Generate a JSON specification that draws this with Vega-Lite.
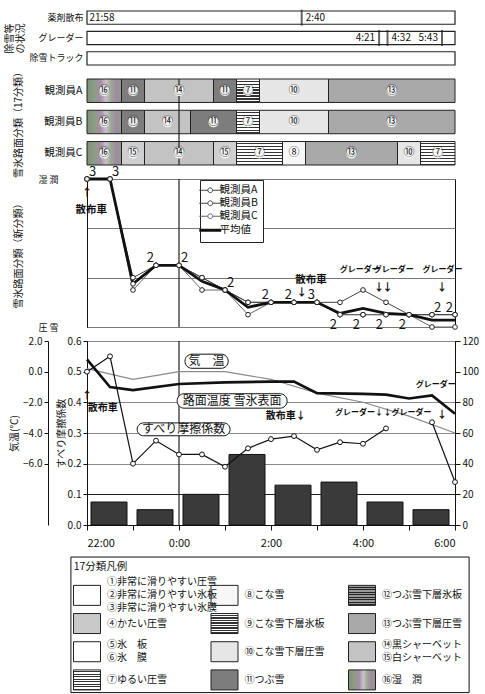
{
"$schema": "https://vega.github.io/schema/vega-lite/v6.json",
"background": "white",
"padding": {"left": 4, "top": 9, "right": 2, "bottom": 0},
"config": {
  "font": "Noto Sans CJK JP",
  "view": {"stroke": null},
  "axis": {"labelColor": "#111", "titleColor": "#111", "domainColor": "#111", "tickColor": "#111", "titleFontWeight": "normal", "labelFontSize": 10, "titleFontSize": 10},
  "legend": {"labelColor": "#111"}
},
"datasets": {
  "rows1": [{"item": "薬剤散布"}, {"item": "グレーダー"}, {"item": "除雪トラック"}],
  "events1": [
    {"item": "薬剤散布", "t": 21.967, "label": "21:58"},
    {"item": "薬剤散布", "t": 26.667, "label": "2:40"},
    {"item": "グレーダー", "t": 28.35, "label": "4:21"},
    {"item": "グレーダー", "t": 28.533, "label": "4:32"},
    {"item": "グレーダー", "t": 29.717, "label": "5:43"}
  ],
  "midnight": [{"t": 24}],
  "seg": [
    {"who": "観測員A", "s": 22, "e": 22.75, "cls": "⑯"},
    {"who": "観測員A", "s": 22.75, "e": 23.25, "cls": "⑪"},
    {"who": "観測員A", "s": 23.25, "e": 24.75, "cls": "⑭"},
    {"who": "観測員A", "s": 24.75, "e": 25.25, "cls": "⑪"},
    {"who": "観測員A", "s": 25.25, "e": 25.75, "cls": "⑦"},
    {"who": "観測員A", "s": 25.75, "e": 27.25, "cls": "⑩"},
    {"who": "観測員A", "s": 27.25, "e": 30, "cls": "⑬"},
    {"who": "観測員B", "s": 22, "e": 22.75, "cls": "⑯"},
    {"who": "観測員B", "s": 22.75, "e": 23.25, "cls": "⑪"},
    {"who": "観測員B", "s": 23.25, "e": 24.25, "cls": "⑭"},
    {"who": "観測員B", "s": 24.25, "e": 25.25, "cls": "⑪"},
    {"who": "観測員B", "s": 25.25, "e": 25.75, "cls": "⑦"},
    {"who": "観測員B", "s": 25.75, "e": 27.25, "cls": "⑩"},
    {"who": "観測員B", "s": 27.25, "e": 30, "cls": "⑬"},
    {"who": "観測員C", "s": 22, "e": 22.75, "cls": "⑯"},
    {"who": "観測員C", "s": 22.75, "e": 23.25, "cls": "⑮"},
    {"who": "観測員C", "s": 23.25, "e": 24.75, "cls": "⑭"},
    {"who": "観測員C", "s": 24.75, "e": 25.25, "cls": "⑮"},
    {"who": "観測員C", "s": 25.25, "e": 26.25, "cls": "⑦"},
    {"who": "観測員C", "s": 26.25, "e": 26.75, "cls": "⑧"},
    {"who": "観測員C", "s": 26.75, "e": 28.75, "cls": "⑬"},
    {"who": "観測員C", "s": 28.75, "e": 29.25, "cls": "⑩"},
    {"who": "観測員C", "s": 29.25, "e": 30, "cls": "⑦"}
  ],
  "obs": [
    {"who": "観測員A", "t": 22, "v": 12}, {"who": "観測員A", "t": 22.5, "v": 12}, {"who": "観測員A", "t": 23, "v": 4}, {"who": "観測員A", "t": 23.5, "v": 5}, {"who": "観測員A", "t": 24, "v": 5}, {"who": "観測員A", "t": 24.5, "v": 4}, {"who": "観測員A", "t": 25, "v": 3}, {"who": "観測員A", "t": 25.5, "v": 2}, {"who": "観測員A", "t": 26, "v": 2}, {"who": "観測員A", "t": 26.5, "v": 2}, {"who": "観測員A", "t": 27, "v": 2}, {"who": "観測員A", "t": 27.5, "v": 2}, {"who": "観測員A", "t": 28, "v": 3}, {"who": "観測員A", "t": 28.5, "v": 2}, {"who": "観測員A", "t": 29, "v": 1}, {"who": "観測員A", "t": 29.5, "v": 1}, {"who": "観測員A", "t": 30, "v": 1},
    {"who": "観測員B", "t": 22, "v": 12}, {"who": "観測員B", "t": 22.5, "v": 12}, {"who": "観測員B", "t": 23, "v": 3.5}, {"who": "観測員B", "t": 23.5, "v": 5}, {"who": "観測員B", "t": 24, "v": 5}, {"who": "観測員B", "t": 24.5, "v": 4}, {"who": "観測員B", "t": 25, "v": 3}, {"who": "観測員B", "t": 25.5, "v": 2}, {"who": "観測員B", "t": 26, "v": 2}, {"who": "観測員B", "t": 26.5, "v": 2}, {"who": "観測員B", "t": 27, "v": 2}, {"who": "観測員B", "t": 27.5, "v": 1}, {"who": "観測員B", "t": 28, "v": 1}, {"who": "観測員B", "t": 28.5, "v": 1}, {"who": "観測員B", "t": 29, "v": 1}, {"who": "観測員B", "t": 29.5, "v": 1}, {"who": "観測員B", "t": 30, "v": 1},
    {"who": "観測員C", "t": 22, "v": 12}, {"who": "観測員C", "t": 22.5, "v": 12}, {"who": "観測員C", "t": 23, "v": 3}, {"who": "観測員C", "t": 23.5, "v": 5}, {"who": "観測員C", "t": 24, "v": 5}, {"who": "観測員C", "t": 24.5, "v": 3}, {"who": "観測員C", "t": 25, "v": 3}, {"who": "観測員C", "t": 25.5, "v": 1}, {"who": "観測員C", "t": 26, "v": 2}, {"who": "観測員C", "t": 26.5, "v": 2}, {"who": "観測員C", "t": 27, "v": 2}, {"who": "観測員C", "t": 27.5, "v": 1}, {"who": "観測員C", "t": 28, "v": 1}, {"who": "観測員C", "t": 28.5, "v": 1}, {"who": "観測員C", "t": 29, "v": 1}, {"who": "観測員C", "t": 29.5, "v": 0}, {"who": "観測員C", "t": 30, "v": 0}
  ],
  "avg": [
    {"t": 22, "v": 12}, {"t": 22.5, "v": 12}, {"t": 23, "v": 3.5}, {"t": 23.5, "v": 5}, {"t": 24, "v": 5}, {"t": 24.5, "v": 3.7}, {"t": 25, "v": 3}, {"t": 25.5, "v": 1.6}, {"t": 26, "v": 2}, {"t": 26.5, "v": 2}, {"t": 27, "v": 2}, {"t": 27.5, "v": 1.1}, {"t": 28, "v": 1.5}, {"t": 28.5, "v": 1.1}, {"t": 29, "v": 1}, {"t": 29.5, "v": 0.55}, {"t": 30, "v": 0.55}
  ],
  "cntR": [{"t": 22, "v": 12, "n": "3"}, {"t": 22.5, "v": 12, "n": "3"}, {"t": 24, "v": 5, "n": "2"}, {"t": 25, "v": 3, "n": "2"}, {"t": 29.5, "v": 1, "n": "2"}],
  "cntL": [{"t": 23.5, "v": 5, "n": "2"}, {"t": 26, "v": 2, "n": "2"}, {"t": 26.5, "v": 2, "n": "2"}, {"t": 27, "v": 2, "n": "3"}, {"t": 30, "v": 1, "n": "2"}],
  "cntB": [{"t": 27.5, "v": 1, "n": "2"}, {"t": 28, "v": 1, "n": "2"}, {"t": 28.5, "v": 1, "n": "2"}, {"t": 29, "v": 1, "n": "2"}],
  "notes3": [
    {"t": 22, "v": 10.9, "label": "↑"}, {"t": 22.09, "v": 9.5, "label": "散布車"},
    {"t": 26.87, "v": 3.8, "label": "散布車"}, {"t": 26.667, "v": 2.75, "label": "↓"},
    {"t": 27.93, "v": 4.6, "label": "グレーダー"}, {"t": 28.67, "v": 4.6, "label": "グレーダー"}, {"t": 29.73, "v": 4.6, "label": "グレーダー"},
    {"t": 28.35, "v": 3.2, "label": "↓"}, {"t": 28.533, "v": 3.2, "label": "↓"}, {"t": 29.717, "v": 3.2, "label": "↓"}
  ],
  "traffic": [
    {"t0": 22, "t1": 23, "n": 15}, {"t0": 23, "t1": 24, "n": 10}, {"t0": 24, "t1": 25, "n": 20}, {"t0": 25, "t1": 26, "n": 46},
    {"t0": 26, "t1": 27, "n": 26}, {"t0": 27, "t1": 28, "n": 28}, {"t0": 28, "t1": 29, "n": 15}, {"t0": 29, "t1": 30, "n": 10}
  ],
  "air": [
    {"t": 22, "temp": 0.2}, {"t": 23, "temp": -0.5}, {"t": 24, "temp": 0.0}, {"t": 25, "temp": 0.0}, {"t": 26, "temp": -0.5},
    {"t": 27, "temp": -1.4}, {"t": 28, "temp": -2.0}, {"t": 29, "temp": -2.9}, {"t": 30, "temp": -4.0}
  ],
  "road": [
    {"t": 22, "temp": 0.8}, {"t": 22.5, "temp": -1.0}, {"t": 23, "temp": -1.2}, {"t": 24, "temp": -0.8}, {"t": 25, "temp": -0.7},
    {"t": 26, "temp": -0.65}, {"t": 26.5, "temp": -0.65}, {"t": 27, "temp": -1.4}, {"t": 28, "temp": -1.45}, {"t": 28.5, "temp": -1.5},
    {"t": 29, "temp": -1.75}, {"t": 29.5, "temp": -1.55}, {"t": 30, "temp": -2.75}
  ],
  "fric": [
    {"t": 22, "f": 0.50, "seg": 1}, {"t": 22.5, "f": 0.55, "seg": 1}, {"t": 23, "f": 0.20, "seg": 1}, {"t": 23.5, "f": 0.275, "seg": 1},
    {"t": 24, "f": 0.23, "seg": 1}, {"t": 24.5, "f": 0.23, "seg": 1}, {"t": 25, "f": 0.19, "seg": 1}, {"t": 25.5, "f": 0.25, "seg": 1},
    {"t": 26, "f": 0.28, "seg": 1}, {"t": 26.5, "f": 0.29, "seg": 1}, {"t": 27, "f": 0.245, "seg": 1}, {"t": 27.5, "f": 0.27, "seg": 1},
    {"t": 28, "f": 0.265, "seg": 1}, {"t": 28.5, "f": 0.315, "seg": 1}, {"t": 29.5, "f": 0.335, "seg": 2}, {"t": 30, "f": 0.14, "seg": 2}
  ],
  "callouts": [
    {"label": "気　温", "t1": 24.13, "t2": 25.07, "f1": 0.557, "f2": 0.511},
    {"label": "路面温度 雪氷表面", "t1": 23.96, "t2": 26.35, "f1": 0.428, "f2": 0.381},
    {"label": "すべり摩擦係数", "t1": 23.09, "t2": 25.11, "f1": 0.333, "f2": 0.291}
  ],
  "notes4C": [{"t": 22, "f": 0.42, "label": "↑"}, {"t": 22.34, "f": 0.382, "label": "散布車"}, {"t": 29.717, "f": 0.36, "label": "↓"}],
  "notes4R": [{"t": 26.667, "f": 0.356, "label": "散布車↓"}, {"t": 28.35, "f": 0.365, "label": "グレーダー↓"}, {"t": 29.93, "f": 0.455, "label": "グレーダー"}],
  "notes4L": [{"t": 28.533, "f": 0.365, "label": "↓グレーダー"}],
  "legtitle": [{"label": "17分類凡例"}],
  "leg17": [
    {"col": 0, "row": 0, "cls": "①", "label": "①非常に滑りやすい圧雪\n②非常に滑りやすい氷板\n③非常に滑りやすい氷膜"},
    {"col": 0, "row": 1, "cls": "④", "label": "④かたい圧雪"},
    {"col": 0, "row": 2, "cls": "⑤", "label": "⑤氷　板\n⑥氷　膜"},
    {"col": 0, "row": 3, "cls": "⑦", "label": "⑦ゆるい圧雪"},
    {"col": 1, "row": 0, "cls": "⑧", "label": "⑧こな雪"},
    {"col": 1, "row": 1, "cls": "⑨", "label": "⑨こな雪下層氷板"},
    {"col": 1, "row": 2, "cls": "⑩", "label": "⑩こな雪下層圧雪"},
    {"col": 1, "row": 3, "cls": "⑪", "label": "⑪つぶ雪"},
    {"col": 2, "row": 0, "cls": "⑫", "label": "⑫つぶ雪下層氷板"},
    {"col": 2, "row": 1, "cls": "⑬", "label": "⑬つぶ雪下層圧雪"},
    {"col": 2, "row": 2, "cls": "⑭", "label": "⑭黒シャーベット\n⑮白シャーベット"},
    {"col": 2, "row": 3, "cls": "⑯", "label": "⑯湿　潤"}
  ]
},
"vconcat": [
  {
    "width": 368, "height": 54,
    "layer": [
      {
        "data": {"name": "rows1"},
        "mark": {"type": "rect", "fill": "white", "stroke": "#222", "strokeWidth": 1.2},
        "encoding": {
          "x": {"datum": 22, "type": "quantitative", "scale": {"domain": [22, 30]}, "axis": null},
          "x2": {"datum": 30},
          "y": {"field": "item", "type": "nominal", "scale": {"domain": ["薬剤散布", "グレーダー", "除雪トラック"], "paddingInner": 0.35, "paddingOuter": 0},
                "axis": {"title": ["除雪等", "の状況"], "titlePadding": 3, "labelPadding": 4, "ticks": false, "domain": false, "labelFontSize": 9, "titleLineHeight": 11}}
        }
      },
      {
        "data": {"name": "events1"},
        "transform": [{"filter": "datum.t >= 22"}],
        "mark": {"type": "tick", "thickness": 2, "size": 16, "color": "#222"},
        "encoding": {
          "x": {"field": "t", "type": "quantitative", "axis": null},
          "y": {"field": "item", "type": "nominal"}
        }
      },
      {
        "data": {"name": "events1"},
        "transform": [{"filter": "datum.label !== '4:21' && datum.label !== '5:43'"}],
        "mark": {"type": "text", "align": "left", "dx": 4, "fontSize": 10, "color": "#111"},
        "encoding": {
          "x": {"field": "t", "type": "quantitative", "axis": null},
          "y": {"field": "item", "type": "nominal"},
          "text": {"field": "label"}
        }
      },
      {
        "data": {"name": "events1"},
        "transform": [{"filter": "datum.label === '4:21' || datum.label === '5:43'"}],
        "mark": {"type": "text", "align": "right", "dx": -4, "fontSize": 10, "color": "#111"},
        "encoding": {
          "x": {"field": "t", "type": "quantitative", "axis": null},
          "y": {"field": "item", "type": "nominal"},
          "text": {"field": "label"}
        }
      }
    ]
  },
  {
    "width": 368, "height": 86,
    "layer": [
      {
        "data": {"name": "seg"},
        "mark": {"type": "rect", "stroke": "#222", "strokeWidth": 1},
        "encoding": {
          "x": {"field": "s", "type": "quantitative", "scale": {"domain": [22, 30]}, "axis": null},
          "x2": {"field": "e"},
          "y": {"field": "who", "type": "nominal", "scale": {"domain": ["観測員A", "観測員B", "観測員C"], "paddingInner": 0.25, "paddingOuter": 0},
                "axis": {"title": "雪氷路面分類（17分類）", "titlePadding": 20, "labelPadding": 5, "ticks": false, "domain": false, "labelFontSize": 10.5}},
          "fill": {
            "condition": [
              {"test": "datum.cls === '⑦' || datum.cls === '⑨'", "value": {"gradient": "linear", "x1": 0, "y1": 0, "x2": 0, "y2": 1, "stops": [{"offset": 0, "color": "#ffffff"}, {"offset": 0.07, "color": "#ffffff"}, {"offset": 0.07, "color": "#333333"}, {"offset": 0.125, "color": "#333333"}, {"offset": 0.125, "color": "#ffffff"}, {"offset": 0.195, "color": "#ffffff"}, {"offset": 0.195, "color": "#333333"}, {"offset": 0.25, "color": "#333333"}, {"offset": 0.25, "color": "#ffffff"}, {"offset": 0.32, "color": "#ffffff"}, {"offset": 0.32, "color": "#333333"}, {"offset": 0.375, "color": "#333333"}, {"offset": 0.375, "color": "#ffffff"}, {"offset": 0.445, "color": "#ffffff"}, {"offset": 0.445, "color": "#333333"}, {"offset": 0.5, "color": "#333333"}, {"offset": 0.5, "color": "#ffffff"}, {"offset": 0.57, "color": "#ffffff"}, {"offset": 0.57, "color": "#333333"}, {"offset": 0.625, "color": "#333333"}, {"offset": 0.625, "color": "#ffffff"}, {"offset": 0.695, "color": "#ffffff"}, {"offset": 0.695, "color": "#333333"}, {"offset": 0.75, "color": "#333333"}, {"offset": 0.75, "color": "#ffffff"}, {"offset": 0.82, "color": "#ffffff"}, {"offset": 0.82, "color": "#333333"}, {"offset": 0.875, "color": "#333333"}, {"offset": 0.875, "color": "#ffffff"}, {"offset": 0.945, "color": "#ffffff"}, {"offset": 0.945, "color": "#333333"}, {"offset": 1, "color": "#333333"}]}},
              {"test": "datum.cls === '⑫'", "value": {"gradient": "linear", "x1": 0, "y1": 0, "x2": 0, "y2": 1, "stops": [{"offset": 0, "color": "#9a9a9a"}, {"offset": 0.07, "color": "#9a9a9a"}, {"offset": 0.07, "color": "#222222"}, {"offset": 0.125, "color": "#222222"}, {"offset": 0.125, "color": "#9a9a9a"}, {"offset": 0.195, "color": "#9a9a9a"}, {"offset": 0.195, "color": "#222222"}, {"offset": 0.25, "color": "#222222"}, {"offset": 0.25, "color": "#9a9a9a"}, {"offset": 0.32, "color": "#9a9a9a"}, {"offset": 0.32, "color": "#222222"}, {"offset": 0.375, "color": "#222222"}, {"offset": 0.375, "color": "#9a9a9a"}, {"offset": 0.445, "color": "#9a9a9a"}, {"offset": 0.445, "color": "#222222"}, {"offset": 0.5, "color": "#222222"}, {"offset": 0.5, "color": "#9a9a9a"}, {"offset": 0.57, "color": "#9a9a9a"}, {"offset": 0.57, "color": "#222222"}, {"offset": 0.625, "color": "#222222"}, {"offset": 0.625, "color": "#9a9a9a"}, {"offset": 0.695, "color": "#9a9a9a"}, {"offset": 0.695, "color": "#222222"}, {"offset": 0.75, "color": "#222222"}, {"offset": 0.75, "color": "#9a9a9a"}, {"offset": 0.82, "color": "#9a9a9a"}, {"offset": 0.82, "color": "#222222"}, {"offset": 0.875, "color": "#222222"}, {"offset": 0.875, "color": "#9a9a9a"}, {"offset": 0.945, "color": "#9a9a9a"}, {"offset": 0.945, "color": "#222222"}, {"offset": 1, "color": "#222222"}]}},
              {"test": "datum.cls === '⑯'", "value": {"gradient": "linear", "x1": 0, "y1": 0, "x2": 1, "y2": 0, "stops": [{"offset": 0, "color": "#7c9276"}, {"offset": 0.2, "color": "#8c9c84"}, {"offset": 0.4, "color": "#a58fa8"}, {"offset": 0.55, "color": "#c9c2c9"}, {"offset": 0.7, "color": "#9aa892"}, {"offset": 0.85, "color": "#a088a4"}, {"offset": 1, "color": "#8e9a88"}]}}
            ],
            "field": "cls", "type": "nominal",
            "scale": {"domain": ["①", "④", "⑤", "⑦", "⑧", "⑨", "⑩", "⑪", "⑫", "⑬", "⑭", "⑮", "⑯"],
                      "range": ["#ffffff", "#c9c9c9", "#ffffff", "#dddddd", "#f7f7f7", "#dddddd", "#e6e6e6", "#7d7d7d", "#999999", "#a9a9a9", "#c3c3c3", "#cfcfcf", "#8f9488"]},
            "legend": null
          }
        }
      },
      {
        "data": {"name": "midnight"},
        "mark": {"type": "rule", "color": "#222", "strokeWidth": 1.2},
        "encoding": {"x": {"field": "t", "type": "quantitative", "axis": null}}
      },
      {
        "data": {"name": "seg"},
        "transform": [{"calculate": "(datum.s + datum.e) / 2", "as": "mid"}],
        "mark": {"type": "point", "shape": "circle", "filled": true, "color": "white", "size": 110, "opacity": 0.9},
        "encoding": {
          "x": {"field": "mid", "type": "quantitative", "axis": null},
          "y": {"field": "who", "type": "nominal"}
        }
      },
      {
        "data": {"name": "seg"},
        "transform": [{"calculate": "(datum.s + datum.e) / 2", "as": "mid"}],
        "mark": {"type": "text", "fontSize": 11, "color": "#111"},
        "encoding": {
          "x": {"field": "mid", "type": "quantitative", "axis": null},
          "y": {"field": "who", "type": "nominal"},
          "text": {"field": "cls"}
        }
      }
    ]
  },
  {
    "width": 368, "height": 148,
    "view": {"stroke": "#111", "strokeWidth": 1},
    "layer": [
      {
        "data": {"name": "midnight"},
        "mark": {"type": "rule", "color": "#222", "strokeWidth": 1.2},
        "encoding": {"x": {"field": "t", "type": "quantitative", "scale": {"domain": [22, 30]}, "axis": null}}
      },
      {
        "data": {"name": "obs"},
        "mark": {"type": "line", "strokeWidth": 1},
        "encoding": {
          "x": {"field": "t", "type": "quantitative", "axis": null},
          "y": {"field": "v", "type": "quantitative", "scale": {"domain": [0, 12]},
                "axis": {"values": [0, 1, 2, 3, 4, 5, 6, 7, 8, 9, 10, 11, 12], "labelExpr": "datum.value === 12 ? '湿 潤' : datum.value === 6 ? 'シャーベット' : datum.value === 0 ? '圧 雪' : ''",
                         "labelOverlap": false, "labelBound": false,
                         "grid": true, "gridColor": "#777", "ticks": false, "domain": true, "labelAlign": "left", "labelPadding": 49, "labelFontSize": 9,
                         "title": "雪氷路面分類（新分類）", "titlePadding": 15}},
          "color": {"field": "who", "type": "nominal",
                    "scale": {"domain": ["観測員A", "観測員B", "観測員C", "平均値"], "range": ["#444444", "#444444", "#666666", "#111111"]},
                    "legend": {"orient": "none", "legendX": 113, "legendY": 1, "title": null, "strokeColor": "#222", "fillColor": "white", "padding": 5,
                               "labelFontSize": 10.5, "symbolSize": 480, "symbolStrokeWidth": 1, "rowPadding": 2, "labelOffset": 4,
                               "encode": {"symbols": {"update": {
                                 "shape": {"signal": "datum.value === '平均値' ? 'M-1,0H1' : 'M-1,0H-0.22M0.22,0H1M0.22,0A0.22,0.22,0,1,1,-0.22,0A0.22,0.22,0,1,1,0.22,0'"},
                                 "strokeWidth": {"signal": "datum.value === '平均値' ? 3 : 1"},
                                 "fill": {"value": "white"}}}}}}
        }
      },
      {
        "data": {"name": "avg"},
        "mark": {"type": "line", "strokeWidth": 2.8},
        "encoding": {
          "x": {"field": "t", "type": "quantitative", "axis": null},
          "y": {"field": "v", "type": "quantitative"},
          "color": {"datum": "平均値", "type": "nominal"}
        }
      },
      {
        "data": {"name": "obs"},
        "mark": {"type": "point", "shape": "circle", "filled": true, "fill": "white", "stroke": "#222", "strokeWidth": 1, "size": 22, "opacity": 1},
        "encoding": {
          "x": {"field": "t", "type": "quantitative", "axis": null},
          "y": {"field": "v", "type": "quantitative"}
        }
      },
      {
        "data": {"name": "cntR"},
        "mark": {"type": "text", "align": "left", "dx": 2, "dy": -7, "fontSize": 13, "color": "#111"},
        "encoding": {"x": {"field": "t", "type": "quantitative", "axis": null}, "y": {"field": "v", "type": "quantitative"}, "text": {"field": "n"}}
      },
      {
        "data": {"name": "cntL"},
        "mark": {"type": "text", "align": "right", "dx": -2, "dy": -7, "fontSize": 13, "color": "#111"},
        "encoding": {"x": {"field": "t", "type": "quantitative", "axis": null}, "y": {"field": "v", "type": "quantitative"}, "text": {"field": "n"}}
      },
      {
        "data": {"name": "cntB"},
        "mark": {"type": "text", "align": "right", "dx": -3, "dy": 10, "fontSize": 13, "color": "#111"},
        "encoding": {"x": {"field": "t", "type": "quantitative", "axis": null}, "y": {"field": "v", "type": "quantitative"}, "text": {"field": "n"}}
      },
      {
        "data": {"name": "notes3"},
        "mark": {"type": "text", "fontWeight": "bold", "color": "#111"},
        "encoding": {"x": {"field": "t", "type": "quantitative", "axis": null}, "y": {"field": "v", "type": "quantitative"}, "text": {"field": "label"},
                     "size": {"condition": {"test": "datum.label === 'グレーダー'", "value": 8}, "value": 10.5}}
      }
    ]
  },
  {
    "width": 368, "height": 184,
    "view": {"stroke": "#111", "strokeWidth": 1},
    "resolve": {"scale": {"y": "independent"}, "axis": {"y": "independent"}},
    "layer": [
      {
        "data": {"name": "traffic"},
        "mark": {"type": "rect", "color": "#3a3a3a", "stroke": "#111", "strokeWidth": 1, "xOffset": 4, "x2Offset": -6},
        "encoding": {
          "x": {"field": "t0", "type": "quantitative", "scale": {"domain": [22, 30]}, "title": null,
                "axis": {"values": [22, 23, 24, 25, 26, 27, 28, 29, 30], "labelExpr": "datum.value % 2 === 0 ? (datum.value % 24) + ':00' : ''", "grid": false, "tickSize": 5, "labelFontSize": 11, "labelPadding": 7}},
          "x2": {"field": "t1"},
          "y": {"field": "n", "type": "quantitative", "scale": {"domain": [0, 120]},
                "axis": {"orient": "right", "values": [0, 20, 40, 60, 80, 100, 120], "title": null, "grid": false, "tickSize": 5, "labelFontSize": 10}},
          "y2": {"datum": 0}
        }
      },
      {
        "data": {"name": "midnight"},
        "mark": {"type": "rule", "color": "#222", "strokeWidth": 1.2},
        "encoding": {"x": {"field": "t", "type": "quantitative", "title": null}}
      },
      {
        "data": {"name": "air"},
        "mark": {"type": "line", "color": "#8a8a8a", "strokeWidth": 1.1},
        "encoding": {
          "x": {"field": "t", "type": "quantitative", "title": null},
          "y": {"field": "temp", "type": "quantitative", "scale": {"domain": [-10, 2]},
                "axis": {"orient": "left", "offset": 39, "values": [2, 0, -2, -4, -6], "format": ".1f", "title": "気温(℃)", "titlePadding": 3, "tickSize": 4, "grid": false}}
        }
      },
      {
        "data": {"name": "road"},
        "mark": {"type": "line", "color": "#111", "strokeWidth": 2.6},
        "encoding": {
          "x": {"field": "t", "type": "quantitative", "title": null},
          "y": {"field": "temp", "type": "quantitative", "scale": {"domain": [-10, 2]}, "axis": null}
        }
      },
      {
        "data": {"name": "fric"},
        "mark": {"type": "line", "color": "#111", "strokeWidth": 1.2, "point": {"filled": true, "fill": "white", "stroke": "#111", "strokeWidth": 1, "size": 24}},
        "encoding": {
          "x": {"field": "t", "type": "quantitative", "title": null},
          "y": {"field": "f", "type": "quantitative", "scale": {"domain": [0, 0.6]},
                "axis": {"orient": "left", "values": [0, 0.1, 0.2, 0.3, 0.4, 0.5, 0.6], "format": ".1f", "title": "すべり摩擦係数", "titlePadding": 1, "tickSize": 4,
                         "grid": true, "gridColor": {"condition": {"test": "datum.value <= 0.1", "value": "#222"}, "value": "#888"},
                         "gridOpacity": {"condition": {"test": "datum.value === 0.5", "value": 0}, "value": 1}}},
          "detail": {"field": "seg", "type": "nominal"}
        }
      },
      {
        "data": {"name": "callouts"},
        "mark": {"type": "rect", "fill": "white", "stroke": "#111", "strokeWidth": 1, "cornerRadius": 7},
        "encoding": {
          "x": {"field": "t1", "type": "quantitative", "title": null},
          "x2": {"field": "t2"},
          "y": {"field": "f1", "type": "quantitative", "scale": {"domain": [0, 0.6]}, "axis": null},
          "y2": {"field": "f2"}
        }
      },
      {
        "data": {"name": "callouts"},
        "transform": [{"calculate": "(datum.t1 + datum.t2) / 2", "as": "tc"}, {"calculate": "(datum.f1 + datum.f2) / 2", "as": "fc"}],
        "mark": {"type": "text", "fontSize": 12, "color": "#111"},
        "encoding": {
          "x": {"field": "tc", "type": "quantitative", "title": null},
          "y": {"field": "fc", "type": "quantitative", "scale": {"domain": [0, 0.6]}, "axis": null},
          "text": {"field": "label"}
        }
      },
      {
        "data": {"name": "notes4C"},
        "mark": {"type": "text", "fontWeight": "bold", "color": "#111"},
        "encoding": {
          "x": {"field": "t", "type": "quantitative", "title": null},
          "y": {"field": "f", "type": "quantitative", "scale": {"domain": [0, 0.6]}, "axis": null},
          "text": {"field": "label"},
          "size": {"value": 10}
        }
      },
      {
        "data": {"name": "notes4R"},
        "mark": {"type": "text", "align": "right", "dx": 4, "fontWeight": "bold", "color": "#111"},
        "encoding": {
          "x": {"field": "t", "type": "quantitative", "title": null},
          "y": {"field": "f", "type": "quantitative", "scale": {"domain": [0, 0.6]}, "axis": null},
          "text": {"field": "label"},
          "size": {"condition": {"test": "indexof(datum.label, 'グレ') >= 0", "value": 8}, "value": 10}
        }
      },
      {
        "data": {"name": "notes4L"},
        "mark": {"type": "text", "align": "left", "dx": -4, "fontWeight": "bold", "color": "#111"},
        "encoding": {
          "x": {"field": "t", "type": "quantitative", "title": null},
          "y": {"field": "f", "type": "quantitative", "scale": {"domain": [0, 0.6]}, "axis": null},
          "text": {"field": "label"},
          "size": {"value": 8}
        }
      }
    ]
  },
  {
    "width": 385, "height": 155,
    "layer": [
      {
        "data": {"name": "legtitle"},
        "mark": {"type": "rect", "fill": "white", "stroke": "#111", "strokeWidth": 1},
        "encoding": {
          "x": {"datum": -0.117, "type": "quantitative", "scale": {"domain": [0.124, 2.779]}, "axis": null},
          "x2": {"datum": 2.779},
          "y": {"datum": -1.36, "type": "quantitative", "scale": {"domain": [-1.916, 3.485], "reverse": true}, "axis": null},
          "y2": {"datum": 3.45}
        }
      },
      {
        "data": {"name": "leg17"},
        "mark": {"type": "point", "shape": "M-1.35,-1H1.35V1H-1.35Z", "size": 400, "filled": true, "stroke": "#222", "strokeWidth": 1, "opacity": 1},
        "encoding": {
          "x": {"field": "col", "type": "quantitative"},
          "y": {"field": "row", "type": "quantitative"},
          "fill": {
            "condition": [
              {"test": "datum.cls === '⑦' || datum.cls === '⑨'", "value": {"gradient": "linear", "x1": 0, "y1": 0, "x2": 0, "y2": 1, "stops": [{"offset": 0, "color": "#ffffff"}, {"offset": 0.07, "color": "#ffffff"}, {"offset": 0.07, "color": "#333333"}, {"offset": 0.125, "color": "#333333"}, {"offset": 0.125, "color": "#ffffff"}, {"offset": 0.195, "color": "#ffffff"}, {"offset": 0.195, "color": "#333333"}, {"offset": 0.25, "color": "#333333"}, {"offset": 0.25, "color": "#ffffff"}, {"offset": 0.32, "color": "#ffffff"}, {"offset": 0.32, "color": "#333333"}, {"offset": 0.375, "color": "#333333"}, {"offset": 0.375, "color": "#ffffff"}, {"offset": 0.445, "color": "#ffffff"}, {"offset": 0.445, "color": "#333333"}, {"offset": 0.5, "color": "#333333"}, {"offset": 0.5, "color": "#ffffff"}, {"offset": 0.57, "color": "#ffffff"}, {"offset": 0.57, "color": "#333333"}, {"offset": 0.625, "color": "#333333"}, {"offset": 0.625, "color": "#ffffff"}, {"offset": 0.695, "color": "#ffffff"}, {"offset": 0.695, "color": "#333333"}, {"offset": 0.75, "color": "#333333"}, {"offset": 0.75, "color": "#ffffff"}, {"offset": 0.82, "color": "#ffffff"}, {"offset": 0.82, "color": "#333333"}, {"offset": 0.875, "color": "#333333"}, {"offset": 0.875, "color": "#ffffff"}, {"offset": 0.945, "color": "#ffffff"}, {"offset": 0.945, "color": "#333333"}, {"offset": 1, "color": "#333333"}]}},
              {"test": "datum.cls === '⑫'", "value": {"gradient": "linear", "x1": 0, "y1": 0, "x2": 0, "y2": 1, "stops": [{"offset": 0, "color": "#9a9a9a"}, {"offset": 0.07, "color": "#9a9a9a"}, {"offset": 0.07, "color": "#222222"}, {"offset": 0.125, "color": "#222222"}, {"offset": 0.125, "color": "#9a9a9a"}, {"offset": 0.195, "color": "#9a9a9a"}, {"offset": 0.195, "color": "#222222"}, {"offset": 0.25, "color": "#222222"}, {"offset": 0.25, "color": "#9a9a9a"}, {"offset": 0.32, "color": "#9a9a9a"}, {"offset": 0.32, "color": "#222222"}, {"offset": 0.375, "color": "#222222"}, {"offset": 0.375, "color": "#9a9a9a"}, {"offset": 0.445, "color": "#9a9a9a"}, {"offset": 0.445, "color": "#222222"}, {"offset": 0.5, "color": "#222222"}, {"offset": 0.5, "color": "#9a9a9a"}, {"offset": 0.57, "color": "#9a9a9a"}, {"offset": 0.57, "color": "#222222"}, {"offset": 0.625, "color": "#222222"}, {"offset": 0.625, "color": "#9a9a9a"}, {"offset": 0.695, "color": "#9a9a9a"}, {"offset": 0.695, "color": "#222222"}, {"offset": 0.75, "color": "#222222"}, {"offset": 0.75, "color": "#9a9a9a"}, {"offset": 0.82, "color": "#9a9a9a"}, {"offset": 0.82, "color": "#222222"}, {"offset": 0.875, "color": "#222222"}, {"offset": 0.875, "color": "#9a9a9a"}, {"offset": 0.945, "color": "#9a9a9a"}, {"offset": 0.945, "color": "#222222"}, {"offset": 1, "color": "#222222"}]}},
              {"test": "datum.cls === '⑯'", "value": {"gradient": "linear", "x1": 0, "y1": 0, "x2": 1, "y2": 0, "stops": [{"offset": 0, "color": "#7c9276"}, {"offset": 0.2, "color": "#8c9c84"}, {"offset": 0.4, "color": "#a58fa8"}, {"offset": 0.55, "color": "#c9c2c9"}, {"offset": 0.7, "color": "#9aa892"}, {"offset": 0.85, "color": "#a088a4"}, {"offset": 1, "color": "#8e9a88"}]}}
            ],
            "field": "cls", "type": "nominal",
            "scale": {"domain": ["①", "④", "⑤", "⑦", "⑧", "⑨", "⑩", "⑪", "⑫", "⑬", "⑭", "⑮", "⑯"],
                      "range": ["#ffffff", "#c9c9c9", "#ffffff", "#dddddd", "#f7f7f7", "#dddddd", "#e6e6e6", "#7d7d7d", "#999999", "#a9a9a9", "#c3c3c3", "#cfcfcf", "#8f9488"]},
            "legend": null
          }
        }
      },
      {
        "data": {"name": "leg17"},
        "mark": {"type": "text", "align": "left", "dx": 20, "dy": {"expr": "-(length(split(datum.label, '\\n')) - 1) * 6.5"}, "fontSize": 10, "lineBreak": "\n", "lineHeight": 13, "color": "#111"},
        "encoding": {
          "x": {"field": "col", "type": "quantitative"},
          "y": {"field": "row", "type": "quantitative"},
          "text": {"field": "label"}
        }
      },
      {
        "data": {"name": "legtitle"},
        "mark": {"type": "text", "align": "left", "fontSize": 10.5, "color": "#111"},
        "encoding": {
          "x": {"datum": -0.097, "type": "quantitative"},
          "y": {"datum": -1.0, "type": "quantitative"},
          "text": {"field": "label"}
        }
      }
    ]
  }
],
"spacing": 14,
"bounds": "flush",
"resolve": {"scale": {"color": "independent"}, "legend": {"color": "independent"}}
}
